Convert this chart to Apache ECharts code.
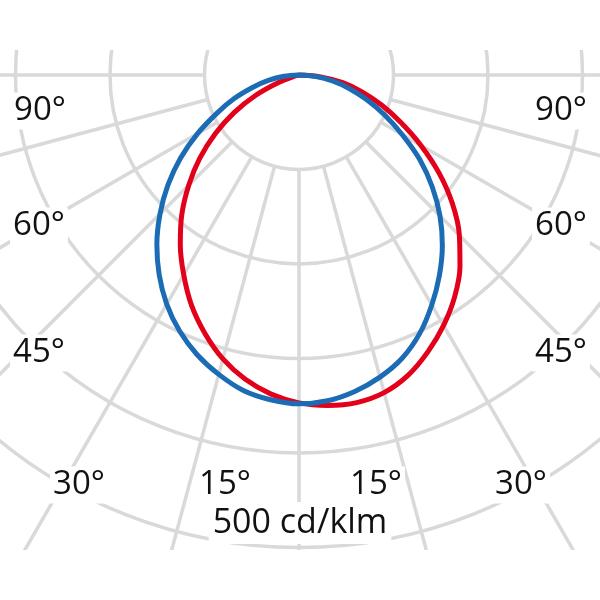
<!DOCTYPE html>
<html>
<head>
<meta charset="utf-8">
<script src="https://cdn.jsdelivr.net/npm/echarts@6/dist/echarts.min.js"></script>
<style>html,body{margin:0;padding:0;background:#fff}#c{width:600px;height:600px}</style>
</head>
<body>
<div id="c"></div>
<script>
// gamma angles (deg): 0 = straight down, +90 = right, -90 = left
const gammaAngles = [-90,-85,-80,-75,-70,-65,-60,-55,-50,-45,-40,-35,-30,-25,-20,-15,-10,-5,0,5,10,15,20,25,30,35,40,45,50,55,60,65,70,75,80,85,90];
// luminous intensity, cd/klm
const redPlane  = [0,0,0,5,23,50,79,108,137,165,193,219,244,269,291,311,327,339,347,351,352,348,338,323,306,287,265,240,212,181,149,119,93,69,47,23,0];
const bluePlane = [0,16,33,51,73,96,124,153,181,208,234,258,280,299,315,328,339,345,348,346,340,331,319,302,281,259,236,211,184,156,126,100,76,55,36,18,0];
// rings and spokes
const ringValues = [100, 600];
const ringStep = 100;
const spokeStep = 15;
// tick label texts
const angleLabelTexts = ['90°', '60°', '45°', '30°', '15°'];
const unitLabel = '500 cd/klm';

const CX = 299, CY = 75, PX_PER_UNIT = 0.945;
const gridColor = '#d9d9d9';
const spokeColors = [];
for (let a = -180; a <= 180; a += spokeStep) spokeColors.push(Math.abs(a) <= 90 ? gridColor : 'rgba(0,0,0,0)');

const leftPos = [[40,111],[39,226],[39,353],[79,485],[225,485]];
const rightPos = [[561,111],[561,226],[561,353],[521,485],[376,485]];
const font = '33px "Open Sans", "Noto Sans", sans-serif';
const textEls = [];
angleLabelTexts.forEach((t, i) => {
  [leftPos[i], rightPos[i]].forEach(p => {
    textEls.push({type:'text', x:p[0], y:p[1], z:100,
      style:{text:t, font:font, fill:'#111', align:'center', verticalAlign:'middle',
             backgroundColor:'#fff', padding:[2,3,2,3]}});
  });
});
textEls.push({type:'text', x:300, y:523, z:100,
  style:{text:unitLabel, font:'34px "Open Sans", "Noto Sans", sans-serif', fill:'#111', align:'center', verticalAlign:'middle',
         backgroundColor:'#fff', padding:[6,4,2,4]}});

const chart = echarts.init(document.getElementById('c'), null, {renderer:'canvas'});
const outerR = ringValues[1] * PX_PER_UNIT;
chart.setOption({
  animation: false,
  backgroundColor: '#fff',
  polar: [
    {center:[CX, CY], radius:[ringValues[0]*PX_PER_UNIT, outerR]},
    {center:[CX, CY], radius:[0, outerR]}
  ],
  angleAxis: [
    {polarIndex:0, type:'value', min:-180, max:180, interval:spokeStep, startAngle:90, clockwise:false,
     axisLine:{show:false}, axisTick:{show:false}, axisLabel:{show:false},
     splitLine:{show:true, lineStyle:{color:spokeColors, width:3.5}}},
    {polarIndex:1, type:'value', min:-180, max:180, startAngle:90, clockwise:false,
     axisLine:{show:false}, axisTick:{show:false}, axisLabel:{show:false}, splitLine:{show:false}}
  ],
  radiusAxis: [
    {polarIndex:0, type:'value', min:ringValues[0], max:ringValues[1], interval:ringStep,
     axisLine:{show:false}, axisTick:{show:false}, axisLabel:{show:false},
     splitLine:{show:true, lineStyle:{color:gridColor, width:3.5}}},
    {polarIndex:1, type:'value', min:0, max:ringValues[1],
     axisLine:{show:false}, axisTick:{show:false}, axisLabel:{show:false}, splitLine:{show:false}}
  ],
  series: [
    {type:'line', name:'C0-C180', coordinateSystem:'polar', polarIndex:1, smooth:0.33, showSymbol:false, symbol:'none',
     lineStyle:{color:'#e2001a', width:5}, z:3,
     data: gammaAngles.map((g,i)=>[redPlane[i], g])},
    {type:'line', name:'C90-C270', coordinateSystem:'polar', polarIndex:1, smooth:0.33, showSymbol:false, symbol:'none',
     lineStyle:{color:'#1b6cb5', width:5}, z:4,
     data: gammaAngles.map((g,i)=>[bluePlane[i], g])}
  ],
  graphic: [
    {type:'rect', z:50, shape:{x:0, y:0, width:600, height:50}, style:{fill:'#fff'}},
    {type:'rect', z:50, shape:{x:0, y:550, width:600, height:50}, style:{fill:'#fff'}}
  ].concat(textEls)
});
</script>
</body>
</html>
